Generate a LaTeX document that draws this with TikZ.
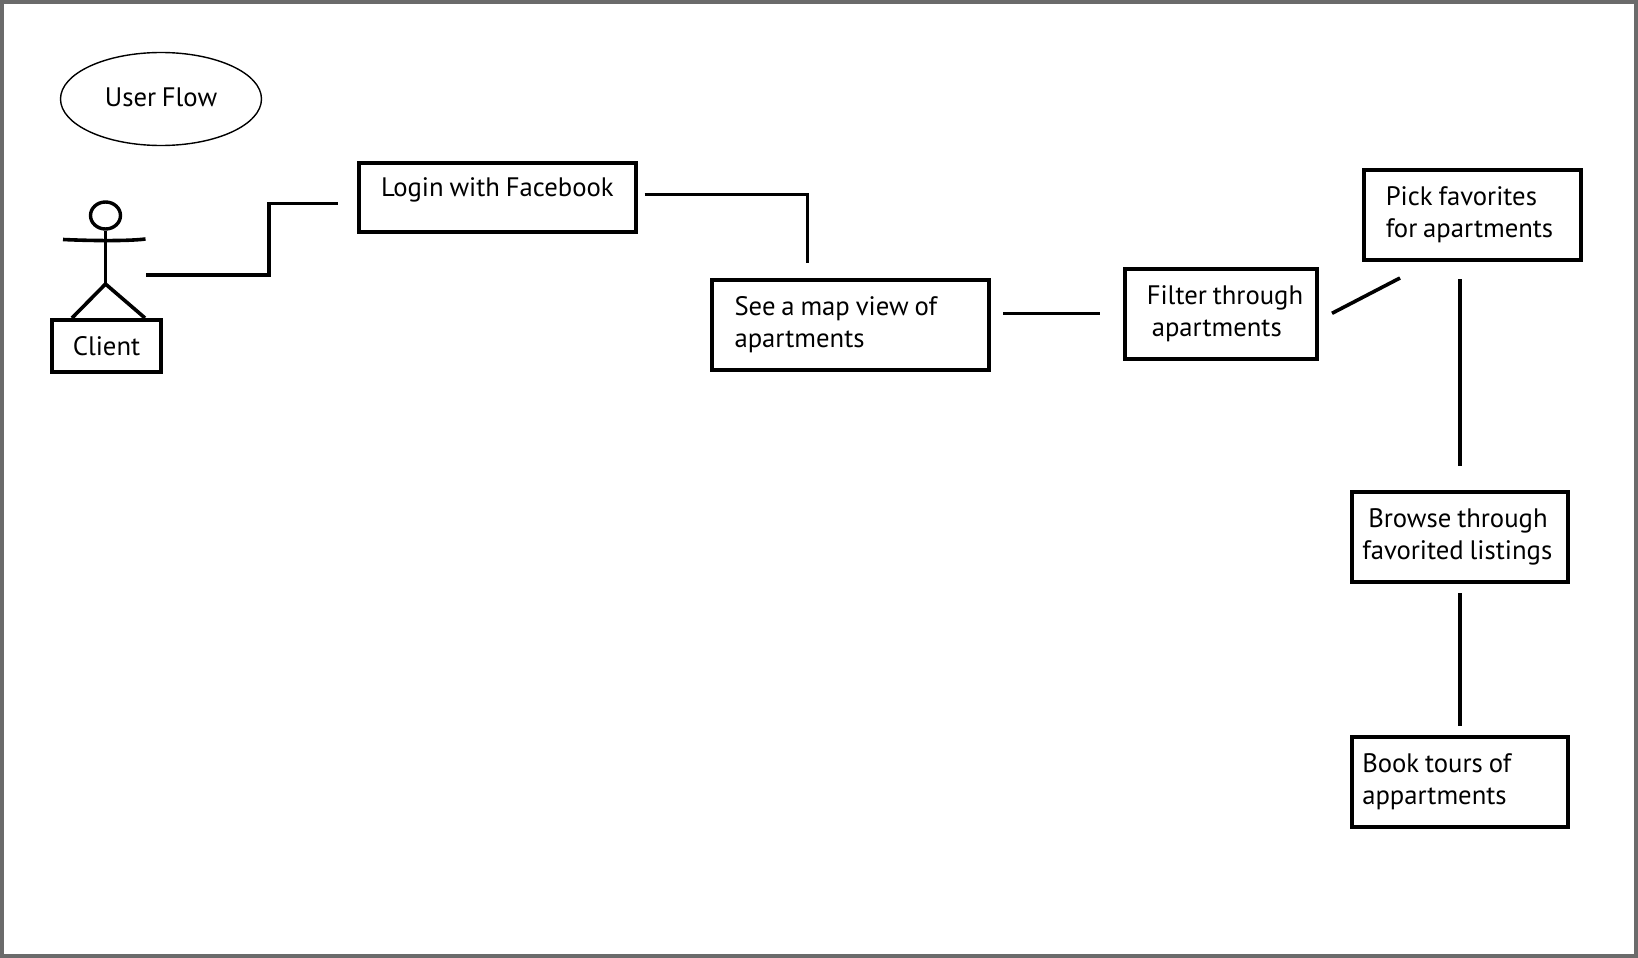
\documentclass[tikz,border=0pt]{standalone}
\usepackage{fontspec}
\setmainfont[WordSpace=0.8]{PT Sans}
\usetikzlibrary{shapes.geometric}
\newcommand{\fs}{\fontsize{26.7}{32.2}\selectfont}
\newcommand{\tsp}{\spaceskip=.22em\relax}
\newcommand{\lift}[1]{\rule[-#1]{0pt}{#1}}
\tikzset{
  x=1pt,y=-1pt,
  flowbox/.style={draw=black,line width=4pt,rectangle,inner sep=0pt,outer sep=0pt,align=left,font=\fs},
  wire/.style={draw=black,line width=3.6pt,line cap=butt,line join=miter},
  stick/.style={draw=black,line width=3.6pt,line cap=butt,line join=miter},
}
\begin{document}
\begin{tikzpicture}
\useasboundingbox (0,0) rectangle (1638,958);
\fill[white] (0,0) rectangle (1638,958);
\draw[draw=black!58,line width=4pt] (2,2) rectangle (1636,956);
% title
\node[draw=black,line width=1.4pt,ellipse,minimum width=201pt,minimum height=93pt,inner sep=0pt,font=\fs] (title) at (161,99) {\raisebox{3pt}{User Flow}};
% actor
\node[draw=black,line width=3.4pt,ellipse,minimum width=30pt,minimum height=27pt,inner sep=0pt] (head) at (105.5,215.5) {};
\coordinate (armL) at (63,239.5);
\coordinate (armR) at (145.5,239);
\coordinate (hip) at (105.5,284);
\node[flowbox,minimum width=109.5pt,minimum height=52pt,text width=109.5pt,align=center] (client) at (106.5,346) {Client};
\coordinate (legL) at (72,318);
\coordinate (legR) at (145,318);
\draw[stick] (head.south) -- (hip);
\draw[stick] (armL) .. controls (85,240.5) and (125,241.5) .. (armR);
\draw[stick] (legL) -- (hip) -- (legR);
% boxes
\node[flowbox,minimum width=276.5pt,minimum height=69pt,text width=276.5pt] (login) at (497.3,197) {\tsp\hspace*{22pt}Login with Facebook\lift{19pt}};
\node[flowbox,minimum width=276.5pt,minimum height=90pt,text width=276.5pt] (map) at (850.3,324.5) {\tsp\hspace*{22.5pt}See a map view of\\\hspace*{22.5pt}apartments\lift{3pt}};
\node[flowbox,minimum width=192.5pt,minimum height=90pt,text width=192.5pt] (filter) at (1221,313.5) {\tsp\hspace*{22pt}Filter through\\\hspace*{27pt}apartments\lift{4pt}};
\node[flowbox,minimum width=217.5pt,minimum height=90pt,text width=217.5pt] (pick) at (1472.5,215) {\tsp\hspace*{22pt}Pick favorites\\\hspace*{22pt}for apartments};
\node[flowbox,minimum width=216.5pt,minimum height=90pt,text width=216.5pt] (browse) at (1460,536.5) {\tsp\hspace*{16.5pt}Browse through\\\hspace*{10.5pt}favorited listings};
\node[flowbox,minimum width=216.5pt,minimum height=90pt,text width=216.5pt] (book) at (1460,782) {\tsp\hspace*{10.5pt}Book tours of\\\hspace*{10.5pt}appartments\lift{2pt}};
% connector ends
\coordinate (a1) at (146,275);
\coordinate (a2) at (268.7,275);
\coordinate (a3) at (268.7,203.5);
\coordinate (a4) at (338,203.5);
\coordinate (b1) at (644.5,194.5);
\coordinate (b2) at (807.5,194.5);
\coordinate (b3) at (807.5,263);
\coordinate (c1) at (1003,313.5);
\coordinate (c2) at (1100,313.5);
\coordinate (d1) at (1332,313.3);
\coordinate (d2) at (1400,278);
\coordinate (e1) at (1460,279.3);
\coordinate (e2) at (1460,465.7);
\coordinate (f1) at (1460,593);
\coordinate (f2) at (1460,726);
\draw[wire] (a1) -- (a2) -- (a3) -- (a4);
\draw[wire] (b1) -- (b2) -- (b3);
\draw[wire] (c1) -- (c2);
\draw[wire] (d1) -- (d2);
\draw[wire] (e1) -- (e2);
\draw[wire] (f1) -- (f2);
\end{tikzpicture}
\end{document}
